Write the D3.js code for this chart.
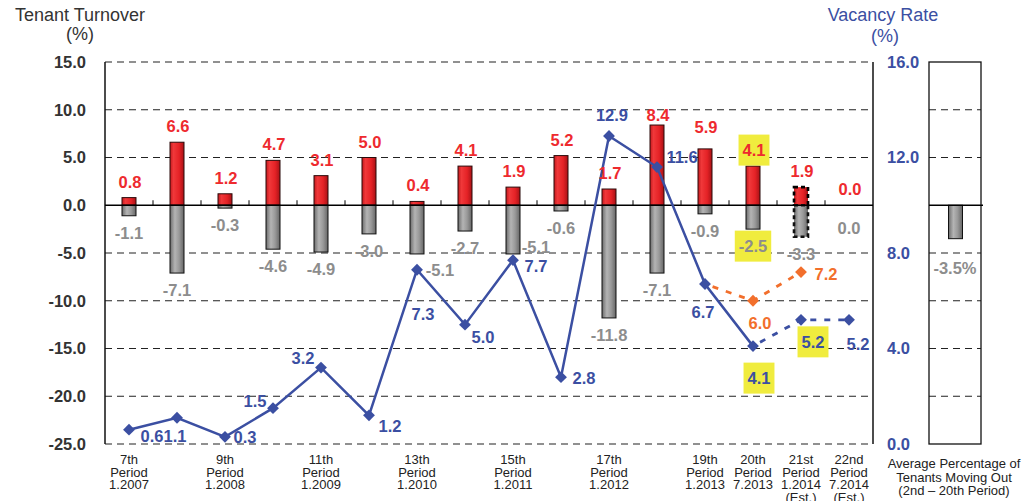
<!DOCTYPE html>
<html>
<head>
<meta charset="utf-8">
<script src="https://cdn.jsdelivr.net/npm/d3@7"></script>
<style>
  html, body { margin: 0; padding: 0; background: #fff; }
  svg { display: block; }
  text { font-family: "Liberation Sans", Arial, sans-serif; }
</style>
</head>
<body>
<svg id="chart" width="1023" height="501"></svg>
<script>
// ---- data ----
const categories = ["7th","8th","9th","10th","11th","12th","13th","14th","15th","16th","17th","18th","19th","20th","21st","22nd"];
const periodLabels = [
  ["7th","Period","1.2007"], [], ["9th","Period","1.2008"], [], ["11th","Period","1.2009"], [],
  ["13th","Period","1.2010"], [], ["15th","Period","1.2011"], [], ["17th","Period","1.2012"], [],
  ["19th","Period","1.2013"], ["20th","Period","7.2013"], ["21st","Period","1.2014","(Est.)"], ["22nd","Period","7.2014","(Est.)"]
];
// tenant turnover (%): moving in (positive) and moving out (negative)
const movingIn  = [0.8, 6.6, 1.2, 4.7, 3.1, 5.0, 0.4, 4.1, 1.9, 5.2, 1.7, 8.4, 5.9, 4.1, 1.9, 0.0];
const movingOut = [-1.1, -7.1, -0.3, -4.6, -4.9, -3.0, -5.1, -2.7, -5.1, -0.6, -11.8, -7.1, -0.9, -2.5, -3.3, 0.0];
const estimatedCategory = "21st";
// vacancy rate (%)
const vacancyCategories = ["7th","8th","9th","10th","11th","12th","13th","14th","15th","16th","17th","18th","19th","20th"];
const vacancyActual = [0.6, 1.1, 0.3, 1.5, 3.2, 1.2, 7.3, 5.0, 7.7, 2.8, 12.9, 11.6, 6.7, 4.1];
const forecastCategories = ["20th","21st","22nd"];
const vacancyForecast = [4.1, 5.2, 5.2];
const priorForecastCategories = ["19th","20th","21st"];
const vacancyPriorForecast = [6.7, 6.0, 7.2];
// average percentage of tenants moving out (2nd - 20th period)
const averageMovingOut = -3.5;

const leftTicks = [15, 10, 5, 0, -5, -10, -15, -20, -25];
const rightTicks = [16, 12, 8, 4, 0];

// ---- layout ----
const plot = { left: 105, right: 873, top: 62, bottom: 444 };
const side = { left: 929, right: 981 };
const RED = "#ee2a2e", GRAY_TXT = "#8d8d8d", BLUE = "#3b4fa2", ORANGE = "#f26f2c", YELLOW = "#f0ec3e", AXIS_TXT = "#333";

// plain hyphen for negative numbers
const locale = d3.formatLocale({ decimal: ".", thousands: ",", grouping: [3], currency: ["", ""], minus: "-" });
const fmt = locale.format(".1f");

const svg = d3.select("#chart");
const defs = svg.append("defs");
function hGrad(id, stops) {
  const g = defs.append("linearGradient").attr("id", id).attr("x1", "0%").attr("x2", "100%").attr("y1", "0%").attr("y2", "0%");
  stops.forEach(([o, c]) => g.append("stop").attr("offset", o).attr("stop-color", c));
}
hGrad("gRed", [["0%", "#c41a1e"], ["25%", "#f0383a"], ["65%", "#e52226"], ["100%", "#a81216"]]);
hGrad("gGray", [["0%", "#6c6c6c"], ["35%", "#b4b4b4"], ["65%", "#999"], ["100%", "#666"]]);

const x = d3.scaleBand().domain(categories).range([plot.left, plot.right]).padding(0);
const cx = c => x(c) + x.bandwidth() / 2;
const yL = d3.scaleLinear().domain([-25, 15]).range([plot.bottom, plot.top]);
const yR = d3.scaleLinear().domain([0, 16]).range([plot.bottom, plot.top]);
const barW = 14;

// ---- grid ----
const gridVals = leftTicks.filter(v => v !== 0);
const grid = svg.append("g");
grid.selectAll("line.main").data(gridVals).join("line")
  .attr("x1", plot.left).attr("x2", plot.right)
  .attr("y1", d => yL(d)).attr("y2", d => yL(d))
  .attr("stroke", "#222").attr("stroke-width", 1.2).attr("stroke-dasharray", "7,5");
grid.selectAll("line.side").data(gridVals.filter(v => v !== 15 && v !== -25)).join("line")
  .attr("x1", side.left).attr("x2", side.right)
  .attr("y1", d => yL(d)).attr("y2", d => yL(d))
  .attr("stroke", "#222").attr("stroke-width", 1.2).attr("stroke-dasharray", "7,5");

// borders
svg.append("line").attr("x1", plot.left).attr("x2", plot.left).attr("y1", plot.top).attr("y2", plot.bottom).attr("stroke", "#111").attr("stroke-width", 1.5);
svg.append("line").attr("x1", plot.right).attr("x2", plot.right).attr("y1", plot.top).attr("y2", plot.bottom).attr("stroke", "#111").attr("stroke-width", 1.5);
svg.append("rect").attr("x", side.left).attr("y", plot.top).attr("width", side.right - side.left).attr("height", plot.bottom - plot.top)
  .attr("fill", "none").attr("stroke", "#111").attr("stroke-width", 1.3);

// ---- axes ----
const axL = svg.append("g").attr("transform", `translate(${plot.left},0)`)
  .call(d3.axisLeft(yL).tickValues(leftTicks).tickFormat(fmt).tickSize(0).tickPadding(19));
axL.select(".domain").remove();
axL.selectAll("text").attr("font-size", 16.5).attr("font-weight", "bold").attr("fill", AXIS_TXT)
  .attr("font-family", "Liberation Sans, Arial, sans-serif");

const axR = svg.append("g").attr("transform", `translate(${plot.right},0)`)
  .call(d3.axisRight(yR).tickValues(rightTicks).tickFormat(fmt).tickSize(0).tickPadding(14));
axR.select(".domain").remove();
axR.selectAll("text").attr("font-size", 16.5).attr("font-weight", "bold").attr("fill", BLUE)
  .attr("font-family", "Liberation Sans, Arial, sans-serif");

// ---- bars ----
const bars = svg.append("g");
const inData = categories.map((c, i) => ({ c, v: movingIn[i], i }));
const outData = categories.map((c, i) => ({ c, v: movingOut[i], i }));
bars.selectAll("rect.in").data(inData.filter(d => d.v !== 0)).join("rect")
  .attr("x", d => cx(d.c) - barW / 2).attr("width", barW)
  .attr("y", d => yL(d.v)).attr("height", d => yL(0) - yL(d.v))
  .attr("fill", "url(#gRed)")
  .attr("stroke", d => d.c === estimatedCategory ? "#000" : "#2a0a0a")
  .attr("stroke-width", d => d.c === estimatedCategory ? 2.6 : 1)
  .attr("stroke-dasharray", d => d.c === estimatedCategory ? "4,3" : null);
bars.selectAll("rect.out").data(outData.filter(d => d.v !== 0)).join("rect")
  .attr("x", d => cx(d.c) - barW / 2).attr("width", barW)
  .attr("y", yL(0)).attr("height", d => yL(d.v) - yL(0))
  .attr("fill", "url(#gGray)")
  .attr("stroke", "#111")
  .attr("stroke-width", d => d.c === estimatedCategory ? 2.6 : 1)
  .attr("stroke-dasharray", d => d.c === estimatedCategory ? "4,3" : null);

// average moving-out bar
svg.append("rect").attr("x", (side.left + side.right) / 2 - barW / 2 + 0.5).attr("width", barW)
  .attr("y", yL(0)).attr("height", yL(averageMovingOut) - yL(0))
  .attr("fill", "url(#gGray)").attr("stroke", "#111").attr("stroke-width", 1);

// zero lines and category ticks
svg.append("line").attr("x1", plot.left).attr("x2", plot.right).attr("y1", yL(0)).attr("y2", yL(0)).attr("stroke", "#000").attr("stroke-width", 1.5);
svg.append("line").attr("x1", side.left).attr("x2", side.right + 2).attr("y1", yL(0)).attr("y2", yL(0)).attr("stroke", "#000").attr("stroke-width", 1.5);
svg.append("g").selectAll("line").data(categories.slice(1)).join("line")
  .attr("x1", d => x(d)).attr("x2", d => x(d)).attr("y1", yL(0) - 5).attr("y2", yL(0))
  .attr("stroke", "#000").attr("stroke-width", 1);

// ---- vacancy lines ----
const lineGen = d3.line().x(d => cx(d.c)).y(d => yR(d.v));
const actual = vacancyCategories.map((c, i) => ({ c, v: vacancyActual[i] }));
const forecast = forecastCategories.map((c, i) => ({ c, v: vacancyForecast[i] }));
const prior = priorForecastCategories.map((c, i) => ({ c, v: vacancyPriorForecast[i] }));

svg.append("path").datum(prior).attr("d", lineGen).attr("fill", "none")
  .attr("stroke", ORANGE).attr("stroke-width", 2.8).attr("stroke-dasharray", "6,8").attr("stroke-dashoffset", -8);
svg.append("path").datum(forecast).attr("d", lineGen).attr("fill", "none")
  .attr("stroke", BLUE).attr("stroke-width", 2.8).attr("stroke-dasharray", "6,8").attr("stroke-dashoffset", -8);
svg.append("path").datum(actual).attr("d", lineGen).attr("fill", "none")
  .attr("stroke", BLUE).attr("stroke-width", 2.5);

const diamond = d3.symbol(d3.symbolSquare, 70);
function drawDiamonds(data, color) {
  svg.append("g").selectAll("path").data(data).join("path")
    .attr("d", diamond)
    .attr("transform", d => `translate(${cx(d.c)},${yR(d.v)}) rotate(45)`)
    .attr("fill", color);
}
drawDiamonds(prior.slice(1), ORANGE);
drawDiamonds(actual, BLUE);
drawDiamonds(forecast.slice(1), BLUE);

// ---- labels ----
const labelLayer = svg.append("g");
function label(xp, yp, txt, color, highlight) {
  const g = labelLayer.append("g");
  const t = g.append("text").attr("x", xp).attr("y", yp).attr("text-anchor", "middle")
    .attr("dominant-baseline", "central").attr("font-size", 16.5).attr("font-weight", "bold")
    .attr("fill", color).text(txt);
  if (highlight) {
    const b = t.node().getBBox();
    g.insert("rect", "text").attr("x", b.x - 4).attr("y", b.y - 6.5).attr("width", b.width + 8).attr("height", b.height + 13)
      .attr("fill", YELLOW);
  }
}

// label placement, relative to each mark
const inLabelDy = { 11: -10, 12: -22 };
const outLabelShift = { 6: [23, 16], 8: [23, -7], 15: [0, 23] };
const highlightIn = ["20th"], highlightOut = ["20th"];
inData.forEach(d => {
  label(cx(d.c) + 1, yL(d.v) + (inLabelDy[d.i] ?? -16), fmt(d.v), RED, highlightIn.includes(d.c));
});
outData.forEach(d => {
  const [dx, dy] = outLabelShift[d.i] ?? [0, 17];
  label(cx(d.c) + dx, yL(d.v) + dy, fmt(d.v), GRAY_TXT, highlightOut.includes(d.c));
});

const actualLabelShift = [[23, 6], [-2, 18], [20, 0], [-18, -7], [-18, -10], [21, 11], [6, 44], [18, 12], [23, 6], [23, 1], [3, -21], [25, -10], [-2, 28], [6, 32]];
actual.forEach((d, i) => {
  const [dx, dy] = actualLabelShift[i];
  label(cx(d.c) + dx, yR(d.v) + dy, fmt(d.v), BLUE, d.c === "20th");
});
const forecastLabelShift = [[12, 22], [9, 24]];
forecast.slice(1).forEach((d, i) => {
  const [dx, dy] = forecastLabelShift[i];
  label(cx(d.c) + dx, yR(d.v) + dy, fmt(d.v), BLUE, d.c === "21st");
});
const priorLabelShift = [[7, 22], [25, 2]];
prior.slice(1).forEach((d, i) => {
  const [dx, dy] = priorLabelShift[i];
  label(cx(d.c) + dx, yR(d.v) + dy, fmt(d.v), ORANGE, false);
});

label((side.left + side.right) / 2, yL(averageMovingOut) + 29, fmt(averageMovingOut) + "%", GRAY_TXT, false);

// ---- category labels ----
const xl = svg.append("g");
categories.forEach((c, i) => {
  const lines = periodLabels[i];
  if (!lines.length) return;
  const t = xl.append("text").attr("text-anchor", "middle").attr("font-size", 13).attr("fill", "#222");
  lines.forEach((s, k) => t.append("tspan").attr("x", cx(c)).attr("y", 464 + k * 12.5).text(s));
});
const sideLabel = ["Average Percentage of", "Tenants Moving Out", "(2nd \u2013 20th Period)"];
const st = svg.append("text").attr("text-anchor", "middle").attr("font-size", 13).attr("fill", "#222");
sideLabel.forEach((s, k) => st.append("tspan").attr("x", 954).attr("y", 468 + k * 13.5).text(s));

// ---- axis titles ----
svg.append("text").attr("x", 80).attr("y", 21).attr("text-anchor", "middle").attr("font-size", 18).attr("fill", AXIS_TXT).text("Tenant Turnover");
svg.append("text").attr("x", 80).attr("y", 40).attr("text-anchor", "middle").attr("font-size", 18).attr("fill", AXIS_TXT).text("(%)");
svg.append("text").attr("x", 883).attr("y", 21).attr("text-anchor", "middle").attr("font-size", 18).attr("fill", BLUE).text("Vacancy Rate");
svg.append("text").attr("x", 885).attr("y", 42).attr("text-anchor", "middle").attr("font-size", 18).attr("fill", BLUE).text("(%)");
</script>
</body>
</html>
